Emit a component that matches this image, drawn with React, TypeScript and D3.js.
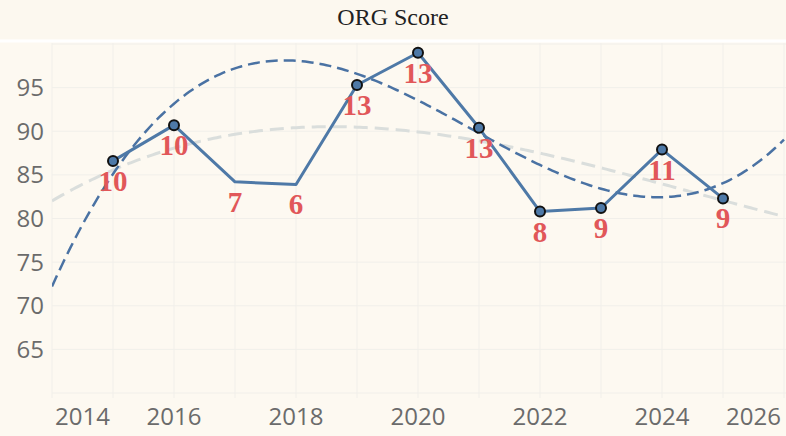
import React from "react";
import * as d3 from "d3";

const years = [2015, 2016, 2017, 2018, 2019, 2020, 2021, 2022, 2023, 2024, 2025];
const scores = [86.6, 90.7, 84.2, 83.9, 95.3, 99.0, 90.4, 80.8, 81.2, 87.9, 82.3];
const counts = [10, 10, 7, 6, 13, 13, 13, 8, 9, 11, 9];
const marked = [true, true, false, false, true, true, true, true, true, true, true];
const xTicks = [2014, 2016, 2018, 2020, 2022, 2024, 2026];
const xGrid = [2014, 2015, 2016, 2017, 2018, 2019, 2020, 2021, 2022, 2023, 2024, 2025, 2026];
const yTicks = [65, 70, 75, 80, 85, 90, 95];
const yGrid = [60, 65, 70, 75, 80, 85, 90, 95, 100];

const W = 786, H = 436;
const PL = 52, PR = 784, PT = 44, PB = 393;

function polyFit(xs: number[], ys: number[], deg: number) {
  const n = deg + 1;
  const A: number[][] = Array.from({ length: n }, () => new Array(n + 1).fill(0));
  xs.forEach((x, k) => {
    for (let i = 0; i < n; i++) {
      for (let j = 0; j < n; j++) A[i][j] += Math.pow(x, i + j);
      A[i][n] += Math.pow(x, i) * ys[k];
    }
  });
  for (let i = 0; i < n; i++) {
    let p = i;
    for (let r = i + 1; r < n; r++) if (Math.abs(A[r][i]) > Math.abs(A[p][i])) p = r;
    [A[i], A[p]] = [A[p], A[i]];
    for (let r = 0; r < n; r++) {
      if (r === i) continue;
      const f = A[r][i] / A[i][i];
      for (let c = i; c <= n; c++) A[r][c] -= f * A[i][c];
    }
  }
  const coef = A.map((row, i) => row[n] / row[i]);
  return (x: number) => coef.reduce((s, c, i) => s + c * Math.pow(x, i), 0);
}

export default function App() {
  const x = d3.scaleLinear().domain([2014, 2026]).range([PL, PR]);
  const y = d3.scaleLinear().domain([60, 100]).range([PB, PT]);

  const t0 = 2020;
  const allFit = polyFit(years.map((v) => v - t0), scores, 3);
  const subX = years.filter((_, i) => marked[i]).map((v) => v - t0);
  const subY = scores.filter((_, i) => marked[i]);
  const subFit = polyFit(subX, subY, 3);

  const samples = d3.range(2014, 2026.001, 0.05);
  const curve = d3
    .line<number>()
    .x((d) => x(d))
    .curve(d3.curveLinear);
  const grayPath = curve.y((d) => y(allFit(d - t0)))(samples) || "";
  const bluePath = curve.y((d) => y(subFit(d - t0)))(samples) || "";

  const line = d3
    .line<number>()
    .x((_, i) => x(years[i]))
    .y((d) => y(d));

  return (
    <svg
      width={W}
      height={H}
      style={{ position: "absolute", left: 0, top: 0, display: "block" }}
    >
      <defs>
        <clipPath id="plot">
          <rect x={PL} y={PT - 1} width={PR - PL + 2} height={PB - PT + 1} />
        </clipPath>
      </defs>
      <rect x={0} y={0} width={W} height={H} fill="#fdf9f1" />
      <rect x={0} y={0} width={W} height={39.5} fill="#fcf8ef" />
      <rect x={0} y={39.5} width={W} height={3} fill="#ffffff" />
      <text
        x={W / 2}
        y={25}
        textAnchor="middle"
        fontFamily="'Liberation Serif', 'Times New Roman', serif"
        fontSize={24}
        fill="#222"
      >
        ORG Score
      </text>

      {yGrid.map((v) => (
        <line key={"hy" + v} x1={PL} x2={PR + 2} y1={y(v)} y2={y(v)} stroke="#f1efea" strokeWidth={1} />
      ))}
      {xGrid.map((v) => (
        <line key={"vx" + v} x1={x(v)} x2={x(v)} y1={PT - 1} y2={PB + 5} stroke="#f1efea" strokeWidth={1} />
      ))}

      {yTicks.map((v) => (
        <text
          key={"yt" + v}
          x={44}
          y={y(v)}
          dy="0.35em"
          textAnchor="end"
          fontFamily="'Open Sans', sans-serif"
          fontSize={24}
          fill="#6b6b6b"
        >
          {v}
        </text>
      ))}
      {xTicks.map((v, i) => (
        <text
          key={"xt" + v}
          x={i === 0 ? x(v) + 3 : i === xTicks.length - 1 ? x(v) - 3 : x(v)}
          y={425}
          textAnchor={i === 0 ? "start" : i === xTicks.length - 1 ? "end" : "middle"}
          fontFamily="'Open Sans', sans-serif"
          fontSize={24}
          fill="#6b6b6b"
        >
          {v}
        </text>
      ))}

      <g clipPath="url(#plot)">
        <path d={grayPath} fill="none" stroke="#dadedc" strokeWidth={3} strokeDasharray="14 7" />
        <path d={bluePath} fill="none" stroke="#4a72a3" strokeWidth={2.5} strokeDasharray="12 6" />
      </g>

      <path d={line(scores) || ""} fill="none" stroke="#4e79a7" strokeWidth={3} strokeLinejoin="round" />
      {scores.map((v, i) =>
        marked[i] ? (
          <circle key={"c" + i} cx={x(years[i])} cy={y(v)} r={5} fill="#4e79a7" stroke="#111" strokeWidth={2} />
        ) : null
      )}
      {counts.map((c, i) => (
        <text
          key={"l" + i}
          x={x(years[i])}
          y={y(scores[i]) + 30}
          textAnchor="middle"
          fontFamily="'Liberation Serif', 'Times New Roman', serif"
          fontWeight="bold"
          fontSize={29}
          fill="#e15759"
        >
          {c}
        </text>
      ))}
    </svg>
  );
}
